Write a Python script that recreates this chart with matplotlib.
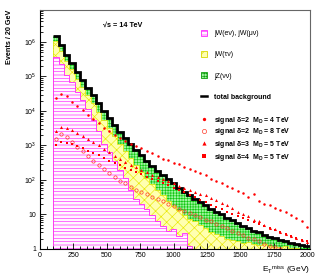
import numpy as np
import matplotlib
matplotlib.use("Agg")
import matplotlib.pyplot as plt
from matplotlib.patches import Patch
from matplotlib.lines import Line2D
from matplotlib.ticker import MultipleLocator, LogLocator, FuncFormatter, NullFormatter

# ─────────────────────────────────────────────
# DATA  (log10 of events / bin, 40 GeV bins from 100 GeV)
# ─────────────────────────────────────────────
bin_edges = np.arange(100, 2021, 40)
bin_centers = 0.5 * (bin_edges[:-1] + bin_edges[1:])

total_log = [6.17, 5.90, 5.62, 5.40, 5.12, 4.90, 4.67, 4.45, 4.22, 4.00,
             3.80, 3.60, 3.40, 3.22, 3.04, 2.87, 2.71, 2.55, 2.41, 2.27,
             2.14, 2.02, 1.90, 1.78, 1.66, 1.55, 1.46, 1.35, 1.27, 1.17,
             1.08, 1.00, 0.90, 0.83, 0.74, 0.67, 0.60, 0.53, 0.48, 0.41,
             0.36, 0.31, 0.26, 0.22, 0.18, 0.15, 0.11, 0.08]

wtau_top_log = [6.02, 5.75, 5.45, 5.22, 4.93, 4.70, 4.45, 4.22, 3.97, 3.73,
                3.50, 3.27, 3.04, 2.84, 2.63, 2.43, 2.24, 2.05, 1.88, 1.71,
                1.55, 1.40, 1.25, 1.12, 0.99, 0.88, 0.80, 0.68, 0.60, 0.50,
                0.44, 0.38, 0.30, 0.26, 0.22, 0.18, 0.20, 0.14, 0.12, 0.15,
                0.10, 0.06, 0.05, 0.08, 0.03, 0.02, 0.01, -0.3]

wlep_top_log = [5.57, 5.35, 5.05, 4.85, 4.55, 4.32, 4.05, 3.75, 3.42, 3.05,
                2.80, 2.55, 2.30, 2.05, 1.70, 1.45, 1.30, 1.15, 0.98, 0.80,
                0.66, 0.52, 0.58, 0.38, 0.45, 0.10, -0.3, -0.3, -0.3, -0.3,
                -0.3, -0.3, -0.3, -0.3, -0.3, -0.3, -0.3, -0.3, -0.3, -0.3,
                -0.3, -0.3, -0.3, -0.3, -0.3, -0.3, -0.3, -0.3]

sig_d2_m4_log = [4.38, 4.50, 4.42, 4.26, 4.13, 4.02, 3.88, 3.76, 3.64, 3.52,
                 3.42, 3.31, 3.22, 3.14, 3.05, 2.98, 2.92, 2.85, 2.77, 2.69,
                 2.62, 2.57, 2.50, 2.45, 2.38, 2.33, 2.27, 2.20, 2.13, 2.04,
                 1.98, 1.90, 1.83, 1.77, 1.68, 1.63, 1.50, 1.58, 1.38, 1.30,
                 1.27, 1.20, 1.12, 1.06, 0.98, 0.90, 0.80, 0.65]

sig_d2_m8_log = [3.18, 3.32, 3.24, 3.10, 2.96, 2.83, 2.70, 2.56, 2.44, 2.32,
                 2.20, 2.08, 1.98, 1.90, 1.80, 1.72, 1.66, 1.58, 1.50, 1.44,
                 1.38, 1.30, 1.24, 1.17, 1.10, 1.05, 0.98, 0.92, 0.85, 0.80,
                 0.72, 0.66, 0.60, 0.52, 0.46, 0.40, 0.33, 0.28, 0.22, 0.15,
                 0.10, 0.05, 0.00, np.nan, np.nan, np.nan, np.nan, np.nan]

sig_d3_m5_log = [3.42, 3.55, 3.50, 3.44, 3.36, 3.27, 3.18, 3.10, 3.00, 2.90,
                 2.80, 2.70, 2.61, 2.53, 2.44, 2.37, 2.29, 2.22, 2.15, 2.08,
                 2.02, 1.96, 1.90, 1.83, 1.78, 1.72, 1.66, 1.60, 1.55, 1.48,
                 1.42, 1.33, 1.26, 1.18, 1.08, 1.02, 0.96, 0.85, 0.80, 0.68,
                 0.62, 0.58, 0.50, 0.44, 0.38, 0.32, 0.25, 0.20]

sig_d4_m5_log = [3.00, 3.10, 3.08, 3.03, 2.98, 2.92, 2.85, 2.78, 2.71, 2.63,
                 2.56, 2.49, 2.42, 2.35, 2.28, 2.22, 2.16, 2.10, 2.04, 1.98,
                 1.92, 1.85, 1.78, 1.71, 1.64, 1.57, 1.50, 1.42, 1.36, 1.28,
                 1.22, 1.15, 1.08, 1.02, 0.95, 0.89, 0.84, 0.78, 0.71, 0.66,
                 0.60, 0.54, 0.48, 0.43, 0.38, 0.33, 0.27, 0.22]

x_ticks = [0, 250, 500, 750, 1000, 1250, 1500, 1750, 2000]

# colours of the three background samples
PINK_FACE, PINK_LINE = "#fff6ff", "#ff22ff"
YEL_FACE, YEL_LINE = "#ffffb0", "#e8e800"
GRN_FACE, GRN_LINE = "#9ff59f", "#10c810"

# ─────────────────────────────────────────────
# STYLE
# ─────────────────────────────────────────────
plt.rcParams["font.family"] = ["Liberation Sans", "DejaVu Sans"]
plt.rcParams["hatch.linewidth"] = 0.45
plt.rcParams["mathtext.default"] = "regular"

fig = plt.figure(figsize=(3.22, 2.76), dpi=100)
ax = fig.add_axes([0.124, 0.098, 0.839, 0.866])

total = 10 ** np.array(total_log)
wtau_top = 10 ** np.array(wtau_top_log)
wlep_top = 10 ** np.array(wlep_top_log)

# stacked backgrounds (each layer drawn from the floor, top layer first)
ax.stairs(total, bin_edges, baseline=0.3, fill=True, facecolor=GRN_FACE,
          edgecolor=GRN_LINE, hatch="++++++", linewidth=0.0)
ax.stairs(wtau_top, bin_edges, baseline=0.3, fill=True, facecolor=YEL_FACE,
          edgecolor=YEL_LINE, hatch="xxx", linewidth=0.5)
ax.stairs(wlep_top, bin_edges, baseline=0.3, fill=True, facecolor=PINK_FACE,
          edgecolor=PINK_LINE, hatch="-----", linewidth=0.6)
ax.stairs(total, bin_edges, baseline=None, color="black", linewidth=2.0)

# signals
ax.plot(bin_centers, 10 ** np.array(sig_d2_m4_log), "o", color="red",
        ms=1.8, mew=0)
ax.plot(bin_centers, 10 ** np.array(sig_d2_m8_log), "o", mfc="none",
        mec="#ff3a2a", ms=2.4, mew=0.5)
ax.plot(bin_centers, 10 ** np.array(sig_d3_m5_log), "^", color="red",
        ms=2.2, mew=0)
ax.plot(bin_centers, 10 ** np.array(sig_d4_m5_log), "s", color="red",
        ms=1.8, mew=0)

# axes
ax.set_yscale("log")
ax.set_xlim(0, 2022)
ax.set_ylim(1, 8.5e6)
ax.set_xticks(x_ticks)
ax.xaxis.set_minor_locator(MultipleLocator(50))
ax.yaxis.set_major_locator(LogLocator(base=10, numticks=10))
ax.yaxis.set_minor_locator(LogLocator(base=10, subs=np.arange(2, 10), numticks=20))


def ylab(v, pos):
    if v < 1.5:
        return "1"
    if v < 15:
        return "10"
    return r"$\mathregular{10^{%d}}$" % round(np.log10(v))


ax.yaxis.set_major_formatter(FuncFormatter(ylab))
ax.yaxis.set_minor_formatter(NullFormatter())
ax.tick_params(which="both", direction="in", labelsize=5, width=0.6,
               top=False, right=False, pad=2.5)
ax.tick_params(which="major", length=4)
ax.tick_params(which="minor", length=2)
for s in ax.spines.values():
    s.set_linewidth(0.8)
ax.spines["right"].set_color("#666666")
ax.spines["top"].set_color("#666666")

ax.set_ylabel("Events / 20 GeV", fontsize=5.2, fontweight="bold", loc="top",
              labelpad=8)
ax.set_xlabel(r"E$_\mathregular{T}$$^\mathregular{miss}$ (GeV)", fontsize=6,
              loc="right", labelpad=3)

ax.text(0.235, 0.935, "\u221as = 14 TeV", transform=ax.transAxes,
        fontsize=5.2, fontweight="bold", va="center", ha="left")

# legend: backgrounds + first signal, then remaining signals
h1 = [Patch(facecolor=PINK_FACE, edgecolor=PINK_LINE, hatch="-----", lw=0.6),
      Patch(facecolor=YEL_FACE, edgecolor="#d8d800", hatch="xxx", lw=0.6),
      Patch(facecolor=GRN_FACE, edgecolor="#10a010", hatch="++++++", lw=0.6),
      Line2D([], [], color="black", lw=1.8),
      Line2D([], [], ls="none", marker="o", color="red", ms=2.4, mew=0)]
l1 = ["jW(e\u03bd), jW(\u03bc\u03bd)", "jW(\u03c4\u03bd)", "jZ(\u03bd\u03bd)",
      "total background", "signal \u03b4=2  M$_\\mathregular{D}$ = 4 TeV"]
h2 = [Line2D([], [], ls="none", marker="o", mfc="none", mec="#ff3a2a", ms=3, mew=0.5),
      Line2D([], [], ls="none", marker="^", color="red", ms=3, mew=0),
      Line2D([], [], ls="none", marker="s", color="red", ms=3, mew=0)]
l2 = ["signal \u03b4=2  M$_\\mathregular{D}$ = 8 TeV",
      "signal \u03b4=3  M$_\\mathregular{D}$ = 5 TeV",
      "signal \u03b4=4  M$_\\mathregular{D}$ = 5 TeV"]

leg1 = ax.legend(h1, l1, loc="upper left", bbox_to_anchor=(0.624, 0.893),
                 bbox_transform=fig.transFigure, frameon=False, fontsize=5,
                 handlelength=0.9, handleheight=1.0, handletextpad=1.0,
                 labelspacing=2.0, borderpad=0, borderaxespad=0)
ax.add_artist(leg1)
leg2 = ax.legend(h2, l2, loc="upper left", bbox_to_anchor=(0.624, 0.542),
                 bbox_transform=fig.transFigure, frameon=False, fontsize=5,
                 handlelength=0.9, handleheight=1.0, handletextpad=1.0,
                 labelspacing=0.25, borderpad=0, borderaxespad=0)
for t in leg1.get_texts()[3:] + leg2.get_texts():
    t.set_fontweight("bold")

fig.savefig("out.png", dpi=100)
